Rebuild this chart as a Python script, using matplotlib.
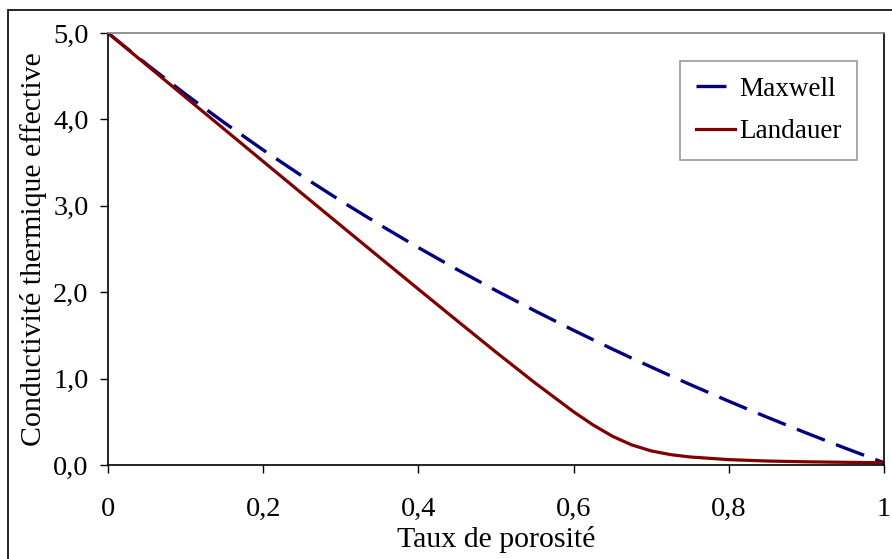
import matplotlib
matplotlib.use("Agg")
import matplotlib.pyplot as plt
from matplotlib.patches import Rectangle

porosite = [0, 0.05, 0.1, 0.15, 0.2, 0.25, 0.3, 0.35, 0.4, 0.45, 0.5, 0.55, 0.6,
            0.625, 0.65, 0.675, 0.7, 0.725, 0.75, 0.8, 0.85, 0.9, 0.95, 1.0]
maxwell = [5.0, 4.637, 4.291, 3.961, 3.646, 3.345, 3.057, 2.781, 2.516, 2.262, 2.019,
           1.785, 1.559, 1.450, 1.342, 1.237, 1.134, 1.032, 0.932, 0.738, 0.551,
           0.370, 0.195, 0.026]
landauer = [5.0, 4.628, 4.256, 3.885, 3.513, 3.142, 2.772, 2.403, 2.035, 1.669, 1.306,
            0.952, 0.616, 0.464, 0.333, 0.232, 0.163, 0.120, 0.093, 0.062, 0.046,
            0.037, 0.031, 0.026]

xticks = [0, 0.2, 0.4, 0.6, 0.8, 1.0]
xticklabels = ["0", "0,2", "0,4", "0,6", "0,8", "1"]
yticks = [0, 1, 2, 3, 4, 5]
yticklabels = ["0,0", "1,0", "2,0", "3,0", "4,0", "5,0"]

plt.rcParams['font.family'] = ['Liberation Serif', 'DejaVu Serif']

fig = plt.figure(figsize=(8.92, 5.59), dpi=100)
ax = fig.add_axes([108/892, 1-465/559, (884-108)/892, (465-33)/559])

ax.plot(porosite, maxwell, color='#000080', lw=2.4, dashes=(9, 3.6), label='Maxwell',
        solid_capstyle='butt', dash_capstyle='butt')
ax.plot(porosite, landauer, color='#800000', lw=2.3, label='Landauer')

ax.set_xlim(0, 1)
ax.set_ylim(0, 5)
ax.set_xticks(xticks)
ax.set_xticklabels(xticklabels)
ax.set_yticks(yticks)
ax.set_yticklabels(yticklabels)
ax.tick_params(axis='both', labelsize=20.5, direction='out', length=6, width=1, color='black')
ax.tick_params(axis='x', pad=17)
ax.tick_params(axis='y', pad=8)

for s in ['top', 'right']:
    ax.spines[s].set_color('#808080')
    ax.spines[s].set_linewidth(1.2)
ax.spines['right'].set_color('black')
for s in ['left', 'bottom']:
    ax.spines[s].set_color('black')
    ax.spines[s].set_linewidth(1.2)

ax.set_xlabel('Taux de porosité', fontsize=21.5, labelpad=3)
ax.set_ylabel('Conductivité thermique effective', fontsize=21.5, labelpad=4)

leg = ax.legend(loc='upper right', bbox_to_anchor=((857-108)/776, (465-61)/432),
                fontsize=19.5, frameon=True, fancybox=False, handlelength=1.45,
                handletextpad=0.15, borderpad=0.58, labelspacing=0.65, borderaxespad=0)
leg.get_frame().set_edgecolor('#808080')
leg.get_frame().set_linewidth(1.2)

fig.patches.append(Rectangle((8/892, -0.01), 1.0, 1-10/559+0.01, transform=fig.transFigure,
                             fill=False, edgecolor='black', lw=1.2))

fig.savefig('out.png', dpi=100)
